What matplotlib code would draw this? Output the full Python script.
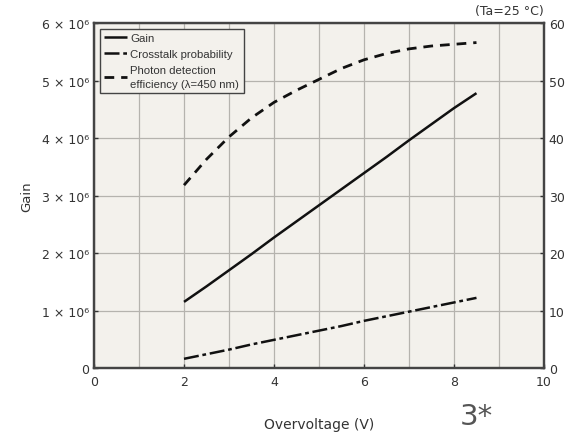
import numpy as np
import matplotlib.pyplot as plt

# values
volts = [2, 2.5, 3, 3.5, 4, 4.5, 5, 5.5, 6, 6.5, 7, 7.5, 8, 8.5]
gain = [1.15e6, 1.42e6, 1.70e6, 1.98e6, 2.27e6, 2.55e6, 2.83e6, 3.11e6,
        3.39e6, 3.67e6, 3.96e6, 4.24e6, 4.52e6, 4.78e6]
crosstalk = [1.6, 2.4, 3.2, 4.1, 4.9, 5.7, 6.5, 7.3, 8.2, 9.0, 9.8, 10.6, 11.4, 12.2]
pde = [31.8, 36.3, 40.2, 43.5, 46.2, 48.3, 50.2, 52.1, 53.6, 54.7, 55.5, 56.0, 56.3, 56.6]

xticks = [0, 2, 4, 6, 8, 10]
gain_ticks = [0, 1e6, 2e6, 3e6, 4e6, 5e6, 6e6]
gain_labels = ["0"] + [f"{i} × 10⁶" for i in range(1, 7)]
pct_ticks = [0, 10, 20, 30, 40, 50, 60]

fig = plt.figure(figsize=(5.74, 4.35), dpi=100)
ax = fig.add_axes([0.1638, 0.1517, 0.7839, 0.7931])
ax.set_facecolor("#f3f1ec")
ax2 = ax.twinx()

txt = "#333333"
ax.set_xlim(0, 10)
ax.set_ylim(0, 6e6)
ax2.set_ylim(0, 60)
ax.set_xticks(xticks)
ax.set_xticks(np.arange(0, 11, 1), minor=True)
ax.set_yticks(gain_ticks)
ax.set_yticklabels(gain_labels)
ax2.set_yticks(pct_ticks)
ax.grid(True, which="both", color="#b5b3ae", linewidth=0.9)
ax.set_axisbelow(True)

for a in (ax, ax2):
    for s in a.spines.values():
        s.set_color("#444444")
        s.set_linewidth(1.6)
    a.tick_params(labelsize=9, colors=txt, length=3, width=1, direction="in")
ax.tick_params(which="minor", length=0)
ax.tick_params(axis="x", pad=5)

l1, = ax.plot(volts, gain, color="#111111", lw=1.8, solid_capstyle="butt")
l2, = ax2.plot(volts, crosstalk, color="#111111", lw=1.8, dashes=(6, 1.5, 1.5, 1.5))
l3, = ax2.plot(volts, pde, color="#111111", lw=2.0, dashes=(3.5, 2.5))

ax.set_ylabel("Gain", fontsize=9.5, color=txt, labelpad=6)
ax.set_xlabel("Overvoltage (V)", fontsize=10, color=txt, labelpad=21)

leg = ax2.legend([l1, l2, l3],
                 ["Gain", "Crosstalk probability",
                  "Photon detection\nefficiency (λ=450 nm)"],
                 loc="upper left", bbox_to_anchor=(0.0, 1.0),
                 prop={"family": ["Liberation Sans", "DejaVu Sans"], "size": 8.2},
                 frameon=True, fancybox=False, edgecolor="#444444",
                 facecolor="#f3f1ec", framealpha=1, handlelength=2.0,
                 handletextpad=0.3, borderpad=0.4, labelspacing=0.5)
leg.get_frame().set_linewidth(1.0)
for t in leg.get_texts():
    t.set_color(txt)
    t.set_linespacing(1.5)

fig.text(0.947, 0.958, "(Ta=25 °C)", fontsize=9, color=txt, ha="right", va="bottom")
fig.text(0.801, 0.023, "3*", fontsize=21, color="#555555", ha="left", va="baseline")

fig.savefig("out.png", dpi=100)
